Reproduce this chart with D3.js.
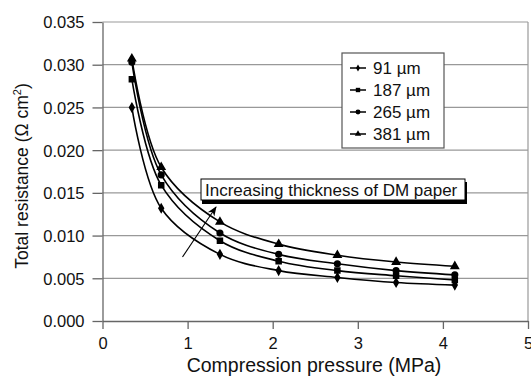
<html>
<head>
<style>
  body{margin:0;background:#fff}
  svg text{font-family:"Liberation Sans",Arial,sans-serif;fill:#111}
  .grid line{stroke:#999;stroke-width:1.2px}
  .axis path,.axis line{stroke:#666;stroke-width:1.3px}
  .series path{fill:none;stroke:#000;stroke-width:1.6px}
  .series .mk{fill:#000}
</style>
</head>
<body>
<div id="chart"></div>
<script src="https://cdn.jsdelivr.net/npm/d3@7/dist/d3.min.js"></script>
<script>
var pressure = [0.345, 0.69, 1.38, 2.07, 2.76, 3.45, 4.14];
var seriesNames = ['91 \u00b5m', '187 \u00b5m', '265 \u00b5m', '381 \u00b5m'];
var r91  = [0.0250, 0.0132, 0.0078, 0.0059, 0.0051, 0.0045, 0.0042];
var r187 = [0.0283, 0.0159, 0.0094, 0.0070, 0.0059, 0.0053, 0.0048];
var r265 = [0.0303, 0.0171, 0.0103, 0.0078, 0.0067, 0.0059, 0.0054];
var r381 = [0.0307, 0.0180, 0.0116, 0.0090, 0.0077, 0.0069, 0.0064];
var xTicks = [0, 1, 2, 3, 4, 5];
var yTicks = [0, 0.005, 0.010, 0.015, 0.020, 0.025, 0.030, 0.035];
var symbols = [d3.symbolDiamond, d3.symbolSquare, d3.symbolCircle, d3.symbolTriangle];
var symSize = [18, 24, 24, 22];

(function () {
  var width = 531, height = 381,
      left = 102.5, right = 528, top = 22, bottom = 321;

  var x = d3.scaleLinear().domain([0, 5]).range([left, right]);
  var y = d3.scaleLinear().domain([0, 0.035]).range([bottom, top]);

  var svg = d3.select('#chart').append('svg')
    .attr('width', width).attr('height', height);

  // gridlines
  svg.append('g').attr('class', 'grid')
    .selectAll('line').data(yTicks.slice(1)).enter().append('line')
    .attr('x1', left).attr('x2', right)
    .attr('y1', function (d) { return y(d); })
    .attr('y2', function (d) { return y(d); });
  svg.append('line').attr('x1', right).attr('x2', right)
    .attr('y1', top).attr('y2', bottom)
    .style('stroke', '#999').style('stroke-width', '1.2px');

  // axes
  var xa = svg.append('g').attr('class', 'axis')
    .attr('transform', 'translate(0,' + bottom + ')')
    .call(d3.axisBottom(x).tickValues(xTicks).tickFormat(d3.format('d'))
      .tickSize(8).tickSizeOuter(0).tickPadding(8));
  var ya = svg.append('g').attr('class', 'axis')
    .attr('transform', 'translate(' + left + ',0)')
    .call(d3.axisLeft(y).tickValues(yTicks).tickFormat(d3.format('.3f'))
      .tickSize(10).tickSizeOuter(0).tickPadding(8));
  xa.selectAll('text').style('font-size', '16.5px').style('fill', '#111');
  ya.selectAll('text').style('font-size', '16.5px').style('fill', '#111')
    .attr('dy', '0.36em');

  // axis titles
  svg.append('text')
    .attr('x', 314).attr('y', 372)
    .attr('text-anchor', 'middle').style('font-size', '19.5px')
    .text('Compression pressure (MPa)');
  var yt = svg.append('text')
    .attr('transform', 'translate(28,176) rotate(-90)')
    .attr('text-anchor', 'middle').style('font-size', '17.5px');
  yt.append('tspan').text('Total resistance (\u03a9 cm');
  yt.append('tspan').attr('dy', -7).style('font-size', '11px').text('2');
  yt.append('tspan').attr('dy', 7).text(')');

  // series
  var allSeries = [r91, r187, r265, r381];
  var line = d3.line()
    .x(function (d, i) { return x(pressure[i]); })
    .y(function (d) { return y(d); })
    .curve(d3.curveCatmullRom.alpha(0.5));

  allSeries.forEach(function (vals, k) {
    var g = svg.append('g').attr('class', 'series');
    g.append('path').attr('d', line(vals));
    g.selectAll('.mk').data(vals).enter().append('path')
      .attr('class', 'mk')
      .attr('transform', function (d, i) {
        return 'translate(' + x(pressure[i]) + ',' + y(d) + ')';
      })
      .attr('d', d3.symbol().type(symbols[k]).size(symSize[k]));
  });

  // legend
  var lg = svg.append('g').attr('transform', 'translate(342,53)');
  lg.append('rect').attr('width', 102).attr('height', 95)
    .style('fill', '#fff').style('stroke', '#555').style('stroke-width', '1.2px');
  seriesNames.forEach(function (name, k) {
    var row = lg.append('g').attr('transform', 'translate(0,' + (15 + k * 22) + ')');
    row.append('line').attr('x1', 8).attr('x2', 24)
      .style('stroke', '#000').style('stroke-width', '1.5px');
    row.append('path').attr('transform', 'translate(16,0)')
      .attr('d', d3.symbol().type(symbols[k]).size(symSize[k] * 0.8));
    row.append('text').attr('x', 31).attr('y', 6)
      .style('font-size', '17px').text(name);
  });

  // annotation box
  var ab = svg.append('g').attr('transform', 'translate(201,179)');
  ab.append('rect').attr('x', 1).attr('y', 3).attr('width', 265).attr('height', 22)
    .style('fill', '#000');
  ab.append('rect').attr('width', 264).attr('height', 21)
    .style('fill', '#fff').style('stroke', '#000').style('stroke-width', '1px');
  ab.append('text').attr('x', 4).attr('y', 16.5)
    .style('font-size', '17px').text('Increasing thickness of DM paper');

  // arrow
  svg.append('defs').append('marker')
    .attr('id', 'ah').attr('viewBox', '0 0 10 10')
    .attr('refX', 9).attr('refY', 5)
    .attr('markerWidth', 9).attr('markerHeight', 9)
    .attr('orient', 'auto')
    .append('path').attr('d', 'M0,1 L10,5 L0,9 L3,5 Z').style('fill', '#000');
  svg.append('line')
    .attr('x1', 182.5).attr('y1', 257).attr('x2', 216).attr('y2', 207)
    .style('stroke', '#000').style('stroke-width', '1.1px')
    .attr('marker-end', 'url(#ah)');
})();
</script>
</body>
</html>
